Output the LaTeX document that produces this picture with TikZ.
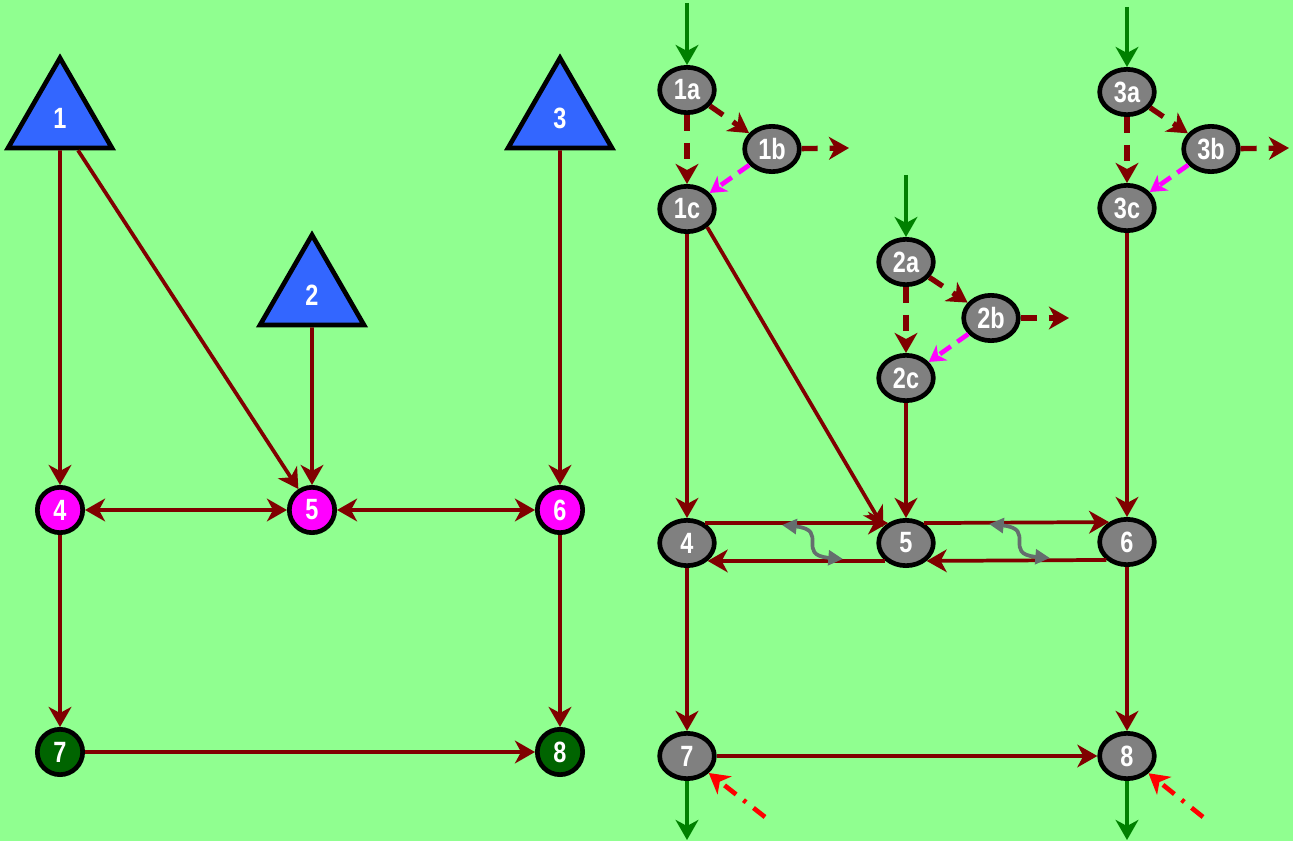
\documentclass[tikz,border=0pt]{standalone}
\usepackage{fontspec}
\setmainfont{Liberation Sans}[FakeStretch=0.8]
\usetikzlibrary{arrows.meta,shapes.geometric,calc}

\definecolor{bgreen}{RGB}{144,255,144}
\definecolor{dred}{RGB}{128,0,0}
\definecolor{agreen}{RGB}{0,128,0}
\definecolor{ngray}{RGB}{128,128,128}
\definecolor{tblue}{RGB}{51,102,255}
\definecolor{ngreen}{RGB}{0,100,0}
\definecolor{sgray}{RGB}{100,110,110}
\definecolor{mag}{RGB}{255,0,255}
\definecolor{rred}{RGB}{255,0,0}

\tikzset{every picture/.style={line width=0.75pt}}
\tikzset{
  bigtip/.tip={Stealth[length=15pt,width=17pt,inset=4.5pt]},
  smalltip/.tip={Stealth[length=12pt,width=14pt,inset=3.5pt]},
  nodetxt/.style={text=white,font=\bfseries\fontsize{22}{24}\selectfont,inner sep=0pt},
  tri/.style={nodetxt,regular polygon,regular polygon sides=3,minimum size=90pt,draw=black,line width=3.5pt,fill=tblue},
  pcirc/.style={nodetxt,circle,minimum size=34pt,draw=black,line width=3.5pt,fill=mag},
  gcirc/.style={pcirc,fill=ngreen},
  gell/.style={nodetxt,ellipse,minimum width=41pt,minimum height=34pt,draw=black,line width=3.5pt,fill=ngray},
  redarr/.style={dred,line width=2.8pt,-bigtip},
  dblarr/.style={dred,line width=2.8pt,bigtip-bigtip},
  ddash/.style={dred,line width=4pt,dash pattern=on 12pt off 9pt,-bigtip},
  mdash/.style={mag,line width=3.5pt,dash pattern=on 10pt off 6pt,-smalltip},
  rdot/.style={rred,line width=3.5pt,dash pattern=on 11pt off 7pt on 2.5pt off 7pt,-bigtip},
  garr/.style={agreen,line width=3pt,-bigtip},
  sq/.style={sgray,line width=2.8pt,{Triangle[length=11pt,width=11pt]}-{Triangle[length=11pt,width=11pt]}}
}

\begin{document}
\begin{tikzpicture}[x=0.75pt,y=0.75pt,yscale=-1,xscale=1]
\fill [bgreen] (0,0) rectangle (1293,841);
\useasboundingbox (0,0) rectangle (1293,841);

% left graph
\draw (60,118) node [tri] (t1) {1};
\draw (312,295) node [tri] (t2) {2};
\draw (560,118) node [tri] (t3) {3};
\draw (60,510) node [pcirc] (m4) {4};
\draw (312,510) node [pcirc] (m5) {5};
\draw (560,510) node [pcirc] (m6) {6};
\draw (60,752) node [gcirc] (m7) {7};
\draw (560,752) node [gcirc] (m8) {8};

\draw [redarr] (t1.south) -- (m4);
\draw [redarr] ($(t1.south)+(18,0)$) -- (m5);
\draw [redarr] (t2.south) -- (m5);
\draw [redarr] (t3.south) -- (m6);
\draw [dblarr] (m4) -- (m5);
\draw [dblarr] (m5) -- (m6);
\draw [redarr] (m4) -- (m7);
\draw [redarr] (m6) -- (m8);
\draw [redarr] (m7) -- (m8);

% right graph
\draw (687,90) node [gell] (e1a) {1a};
\draw (772,149) node [gell] (e1b) {1b};
\draw (687,209) node [gell] (e1c) {1c};
\draw (906,262) node [gell] (e2a) {2a};
\draw (991,318) node [gell] (e2b) {2b};
\draw (906,378) node [gell] (e2c) {2c};
\draw (1127,92) node [gell] (e3a) {3a};
\draw (1211,149) node [gell] (e3b) {3b};
\draw (1127,208) node [gell] (e3c) {3c};
\draw (687,543) node [gell] (e4) {4};
\draw (906,543) node [gell] (e5) {5};
\draw (1127,542) node [gell] (e6) {6};
\draw (687,756) node [gell] (e7) {7};
\draw (1127,756) node [gell] (e8) {8};

\coordinate (in1) at (687,3);
\coordinate (in2) at (906,175);
\coordinate (in3) at (1127,7);
\coordinate (out1) at (849,148);
\coordinate (out2) at (1069,318);
\coordinate (out3) at (1289,148);
\coordinate (b7) at (687,840);
\coordinate (b8) at (1127,840);
\coordinate (r7) at (765,817);
\coordinate (r8) at (1203,817);

\draw [garr] (in1) -- (e1a);
\draw [garr] (in2) -- (e2a);
\draw [garr] (in3) -- (e3a);

\draw [ddash] (e1a) -- (e1c);
\draw [ddash] (e1a) -- (e1b);
\draw [ddash] (e1b) -- (out1);
\draw [mdash] (e1b) -- (e1c);
\draw [ddash] (e2a) -- (e2c);
\draw [ddash] (e2a) -- (e2b);
\draw [ddash] (e2b) -- (out2);
\draw [mdash] (e2b) -- (e2c);
\draw [ddash] (e3a) -- (e3c);
\draw [ddash] (e3a) -- (e3b);
\draw [ddash] (e3b) -- (out3);
\draw [mdash] (e3b) -- (e3c);

\draw [redarr] (e1c) -- (e4);
\draw [redarr] (e1c.-42) -- (e5.145);
\draw [redarr] (e2c) -- (e5);
\draw [redarr] (e3c) -- (e6);
\draw [redarr] (e4.48) -- (e5.132);
\draw [redarr] (e5.-139) -- (e4.-41);
\draw [redarr] (e5.48) -- (e6.132);
\draw [redarr] (e6.-139) -- (e5.-41);
\draw [redarr] (e4) -- (e7);
\draw [redarr] (e6) -- (e8);
\draw [redarr] (e7) -- (e8);

\coordinate (s1) at (782,525);
\coordinate (s2) at (843,559);
\coordinate (s3) at (989,524);
\coordinate (s4) at (1050,558);
\draw [sq] (s1) .. controls (830,530) and (795,555) .. (s2);
\draw [sq] (s3) .. controls (1037,529) and (1002,554) .. (s4);

\draw [garr] (e7) -- (b7);
\draw [garr] (e8) -- (b8);
\draw [rdot] (r7) -- (e7);
\draw [rdot] (r8) -- (e8);
\end{tikzpicture}
\end{document}
